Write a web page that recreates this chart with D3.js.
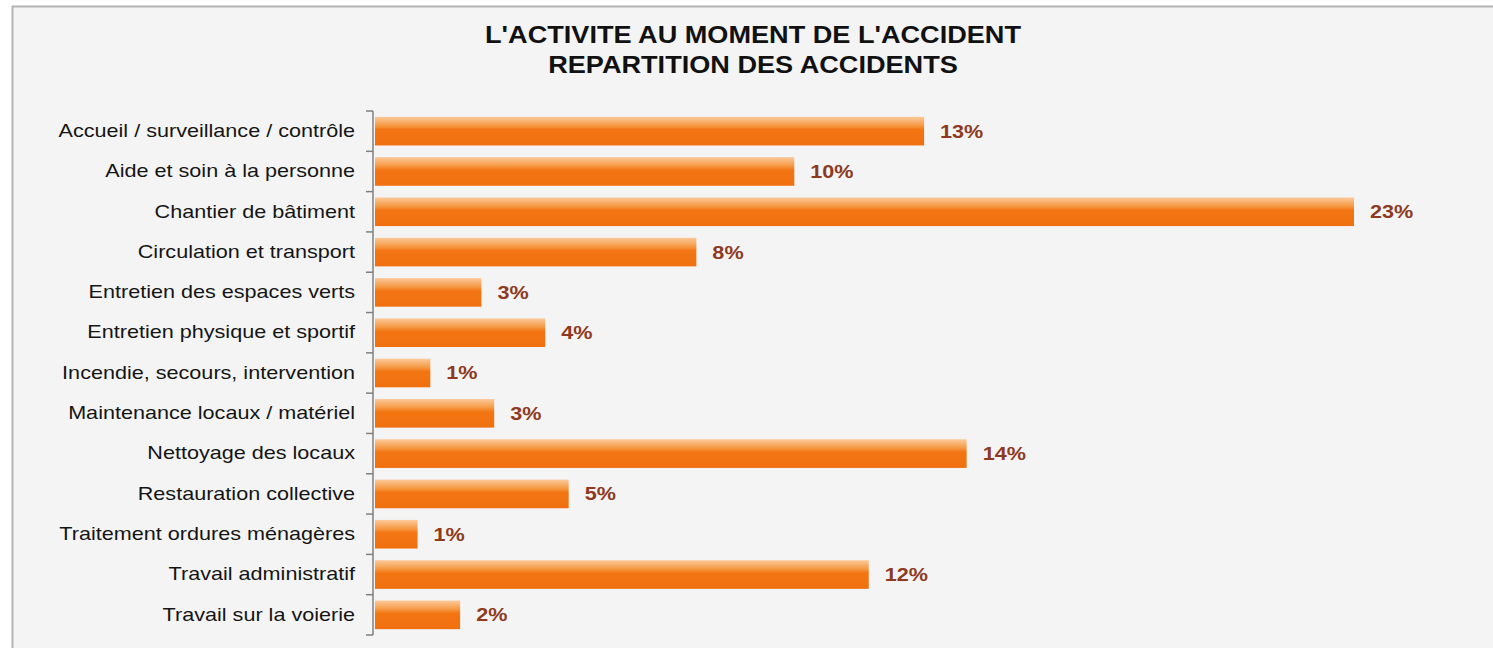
<!DOCTYPE html>
<html>
<head>
<meta charset="utf-8">
<script src="https://cdn.jsdelivr.net/npm/d3@7"></script>
<style>
  html, body { margin: 0; padding: 0; background: #fff; }
  svg { display: block; font-family: "Liberation Sans", Arial, sans-serif; }
</style>
</head>
<body>
<div id="chart"></div>
<script>
const categories = [
  'Accueil / surveillance / contrôle',
  'Aide et soin à la personne',
  'Chantier de bâtiment',
  'Circulation et transport',
  'Entretien des espaces verts',
  'Entretien physique et sportif',
  'Incendie, secours, intervention',
  'Maintenance locaux / matériel',
  'Nettoyage des locaux',
  'Restauration collective',
  'Traitement ordures ménagères',
  'Travail administratif',
  'Travail sur la voierie'
]
const values = [12.9, 9.85, 23.0, 7.55, 2.5, 4.0, 1.3, 2.8, 13.9, 4.55, 1.0, 11.6, 2.0]
const titleLines = ["L'ACTIVITE AU MOMENT DE L'ACCIDENT", 'REPARTITION DES ACCIDENTS']

const width = 1493
const height = 648
const margin = { top: 111, left: 373, bottom: 13 }
// le texte de l'original est étiré horizontalement
const stretch = 1.2

const svg = d3.select('#chart')
  .append('svg')
  .attr('width', width)
  .attr('height', height)

// cadre gris
svg.append('rect')
  .attr('x', 12.5)
  .attr('y', 6.5)
  .attr('width', width)
  .attr('height', height)
  .attr('fill', '#f4f4f4')
  .attr('stroke', '#b4b4b4')
  .attr('stroke-width', 2)

const defs = svg.append('defs')
const grad = defs.append('linearGradient')
  .attr('id', 'barGrad')
  .attr('x1', 0).attr('y1', 0).attr('x2', 0).attr('y2', 1)
grad.append('stop').attr('offset', '0%').attr('stop-color', '#fcc99a')
grad.append('stop').attr('offset', '30%').attr('stop-color', '#f59a45')
grad.append('stop').attr('offset', '45%').attr('stop-color', '#f37512')
grad.append('stop').attr('offset', '100%').attr('stop-color', '#f07010')

svg.append('g')
  .selectAll('text')
  .data(titleLines)
  .join('text')
  .attr('transform', (d, i) => `translate(753,${43 + i * 30}) scale(1.13,1)`)
  .attr('text-anchor', 'middle')
  .attr('font-size', 24)
  .attr('font-weight', 'bold')
  .attr('fill', '#111')
  .text(d => d)

const y = d3.scaleBand()
  .domain(categories)
  .range([margin.top, 635])
  .paddingInner(0.29)
  .paddingOuter(0.145)

const x = d3.scaleLinear()
  .domain([0, 23])
  .range([margin.left + 2, 1354])

const yAxis = svg.append('g')
  .attr('transform', `translate(${margin.left},0)`)
  .call(d3.axisLeft(y).tickSize(0).tickPadding(18))

yAxis.select('.domain').remove()
yAxis.selectAll('text')
  .attr('x', 0)
  .attr('transform', `translate(-18,0) scale(${stretch},1)`)
  .attr('font-size', 18)
  .attr('font-family', '"Liberation Sans", Arial, sans-serif')
  .attr('fill', '#151515')

// ligne d'axe et graduations entre les catégories
const axisG = svg.append('g').attr('stroke', '#808080').attr('stroke-width', 1.5)
axisG.append('line')
  .attr('x1', margin.left).attr('x2', margin.left)
  .attr('y1', y.range()[0]).attr('y2', y.range()[1])
const step = y.step()
axisG.selectAll('line.tick')
  .data(d3.range(categories.length + 1))
  .join('line')
  .attr('class', 'tick')
  .attr('x1', margin.left - 7).attr('x2', margin.left)
  .attr('y1', i => y.range()[0] + i * step)
  .attr('y2', i => y.range()[0] + i * step)

const rows = categories.map((c, i) => ({ c, v: values[i] }))

svg.append('g')
  .selectAll('rect')
  .data(rows)
  .join('rect')
  .attr('x', x(0))
  .attr('y', d => y(d.c))
  .attr('width', d => x(d.v) - x(0))
  .attr('height', y.bandwidth())
  .attr('fill', 'url(#barGrad)')

svg.append('g')
  .selectAll('text')
  .data(rows)
  .join('text')
  .attr('transform', d => `translate(${x(d.v) + 16},${y(d.c) + y.bandwidth() / 2}) scale(${stretch},1)`)
  .attr('dy', '0.36em')
  .attr('font-size', 18)
  .attr('font-weight', 'bold')
  .attr('fill', '#8e3a1e')
  .text(d => Math.round(d.v) + '%')
</script>
</body>
</html>
